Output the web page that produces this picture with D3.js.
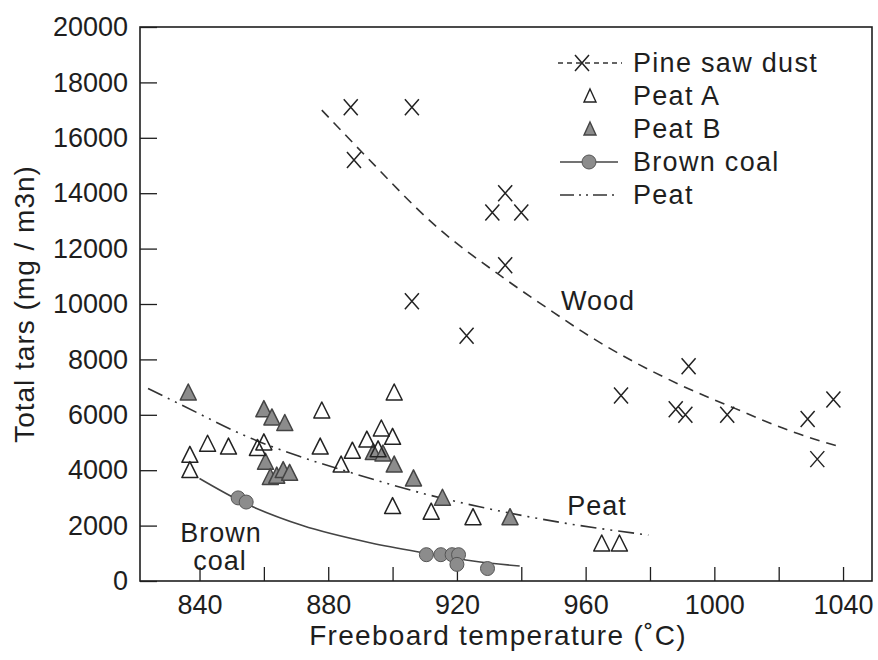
<!DOCTYPE html>
<html>
<head>
<meta charset="utf-8">
<script src="https://cdn.jsdelivr.net/npm/d3@7"></script>
<style>
body { margin: 0; background: #fff; }
text { font-family: "Liberation Sans", Arial, sans-serif; fill: #1e1e1e; }
</style>
</head>
<body>
<div id="chart"></div>
<script>
// measured points
var pineTemp = [887, 906, 888, 935, 931, 940, 935, 906, 923, 971, 992, 988, 991, 1004, 1029, 1037, 1032];
var pineTar  = [17100, 17100, 15200, 14000, 13300, 13300, 11400, 10100, 8850, 6700, 7750, 6200, 6000, 6000, 5850, 6550, 4400];

var peatATemp = [837, 837, 842.5, 849, 858, 860, 878, 877.5, 884, 887.5, 892, 896.5, 900, 895.5, 900.5, 900, 912, 925, 965, 970.5];
var peatATar  = [4500, 3950, 4900, 4800, 4750, 4950, 6100, 4800, 4150, 4650, 5050, 5450, 5150, 4700, 6750, 2650, 2450, 2250, 1300, 1300];

var peatBTemp = [836.5, 860, 862.5, 866.5, 860.5, 862, 864, 866, 868, 894, 897, 900.5, 906.5, 915.5, 936.5];
var peatBTar  = [6750, 6150, 5850, 5650, 4250, 3700, 3750, 3950, 3850, 4600, 4550, 4150, 3650, 2950, 2250];

var coalTemp = [852, 854.5, 910.5, 915, 918.5, 920.5, 920, 929.5];
var coalTar  = [3000, 2850, 950, 950, 950, 950, 600, 450];

// fitted trend lines
var woodFitTemp = [878, 892, 912.6, 935, 950, 959, 989, 1006, 1024, 1039.5];
var woodFitTar  = [17000, 15300, 12900, 10900, 9700, 9000, 7100, 6250, 5400, 4830];

var peatFitTemp = [824, 834.5, 856, 871, 888, 911.5, 927, 954, 979.5];
var peatFitTar  = [6950, 6350, 5150, 4500, 3880, 3100, 2680, 2080, 1660];

var coalFitTemp = [840, 853, 872, 893, 910.5, 925, 939.5];
var coalFitTar  = [3700, 2870, 2000, 1380, 1000, 720, 540];

var xTicks = [840, 860, 880, 900, 920, 940, 960, 980, 1000, 1020, 1040];
var yTicks = [0, 2000, 4000, 6000, 8000, 10000, 12000, 14000, 16000, 18000, 20000];
var legendNames = ["Pine saw dust", "Peat A", "Peat B", "Brown coal", "Peat"];

var W = 878, H = 660;
var margin = { top: 27, bottom: 79, left: 140, right: 6 };
var width = W - margin.left - margin.right;
var height = H - margin.top - margin.bottom;

var svg = d3.select("#chart").append("svg")
    .attr("width", W)
    .attr("height", H);

var x = d3.scaleLinear().domain([821.5, 1049]).range([0, width]);
var y = d3.scaleLinear().domain([0, 20000]).range([height, 0]);

var g = svg.append("g")
    .attr("transform", "translate(" + margin.left + "," + margin.top + ")");

var ink = "#1e1e1e";

// axes (ticks point inwards)
var xAxis = g.append("g")
    .attr("transform", "translate(0," + height + ")")
    .call(d3.axisBottom(x).tickValues(xTicks).tickSize(-14).tickPadding(14)
        .tickFormat(function(d) { return d % 40 == 0 ? d : ""; }));
xAxis.select(".domain").remove();
xAxis.selectAll("line").attr("stroke", ink).attr("stroke-width", 1.3);
xAxis.selectAll("text").attr("font-size", "27px").attr("fill", ink);

var yAxis = g.append("g")
    .call(d3.axisLeft(y).tickValues(yTicks).tickSize(-17).tickPadding(12)
        .tickFormat(d3.format("d")));
yAxis.select(".domain").remove();
yAxis.selectAll("line").attr("stroke", ink).attr("stroke-width", 1.3);
yAxis.selectAll("text").attr("font-size", "27px").attr("fill", ink);

// frame
g.append("rect")
    .attr("width", width)
    .attr("height", height)
    .attr("fill", "none")
    .attr("stroke", ink)
    .attr("stroke-width", 1.6);

// trend lines
function lineOf(tx, ty) {
    return d3.line()
        .x(function(d, i) { return x(tx[i]); })
        .y(function(d, i) { return y(ty[i]); })
        .curve(d3.curveMonotoneX)(tx);
}

g.append("path")
    .attr("d", lineOf(woodFitTemp, woodFitTar))
    .attr("fill", "none").attr("stroke", "#333").attr("stroke-width", 1.6)
    .attr("stroke-dasharray", "10,7");

g.append("path")
    .attr("d", lineOf(peatFitTemp, peatFitTar))
    .attr("fill", "none").attr("stroke", "#333").attr("stroke-width", 1.6)
    .attr("stroke-dasharray", "16,6,2,6,2,6");

g.append("path")
    .attr("d", lineOf(coalFitTemp, coalFitTar))
    .attr("fill", "none").attr("stroke", "#444").attr("stroke-width", 1.6);

// markers
var crossPath = "M-7,-8L7,8M-7,8L7,-8";
var triPath = "M0,-10L8,6L-8,6Z";

function drawTri(tx, ty, filled) {
    g.append("g").selectAll("path")
        .data(tx).enter()
        .append("path")
            .attr("d", triPath)
            .attr("transform", function(d, i) { return "translate(" + x(tx[i]) + "," + y(ty[i]) + ")"; })
            .attr("fill", filled ? "#8c8c8c" : "none")
            .attr("stroke", filled ? "#444" : "#222")
            .attr("stroke-width", 1.5)
            .attr("stroke-linejoin", "round");
}

drawTri(peatBTemp, peatBTar, true);
drawTri(peatATemp, peatATar, false);

g.append("g").selectAll("circle")
    .data(coalTemp).enter()
    .append("circle")
        .attr("cx", function(d, i) { return x(coalTemp[i]); })
        .attr("cy", function(d, i) { return y(coalTar[i]); })
        .attr("r", 7)
        .attr("fill", "#8c8c8c")
        .attr("stroke", "#555")
        .attr("stroke-width", 1);

g.append("g").selectAll("path")
    .data(pineTemp).enter()
    .append("path")
        .attr("d", crossPath)
        .attr("transform", function(d, i) { return "translate(" + x(pineTemp[i]) + "," + y(pineTar[i]) + ")"; })
        .attr("fill", "none")
        .attr("stroke", "#222")
        .attr("stroke-width", 1.5);

// curve labels
function label(px, py, s) {
    g.append("text").attr("x", px - margin.left).attr("y", py - margin.top)
        .attr("text-anchor", "middle").attr("font-size", "27px")
        .attr("letter-spacing", "1px").text(s);
}
label(598, 310, "Wood");
label(597, 515, "Peat");
label(221, 542, "Brown");
label(220, 570, "coal");

// legend
var lg = svg.append("g").attr("transform", "translate(558,63)");
var rowStep = 33;
legendNames.forEach(function(name, i) {
    var row = lg.append("g").attr("transform", "translate(0," + i * rowStep + ")");
    if (i == 0) {
        row.append("line").attr("x1", 0).attr("x2", 64).attr("stroke", "#333")
            .attr("stroke-width", 1.6).attr("stroke-dasharray", "5,4");
        row.append("path").attr("d", crossPath).attr("transform", "translate(24,0)")
            .attr("fill", "#fff").attr("stroke", "#222").attr("stroke-width", 1.5);
    } else if (i == 1 || i == 2) {
        row.append("path").attr("d", "M0,-8L6,5L-6,5Z").attr("transform", "translate(32,1)")
            .attr("fill", i == 2 ? "#8c8c8c" : "none")
            .attr("stroke", i == 2 ? "#444" : "#222").attr("stroke-width", 1.4);
    } else if (i == 3) {
        row.append("line").attr("x1", 2).attr("x2", 60).attr("stroke", "#444").attr("stroke-width", 1.6);
        row.append("circle").attr("cx", 31).attr("r", 7).attr("fill", "#8c8c8c").attr("stroke", "#555");
    } else {
        row.append("line").attr("x1", 2).attr("x2", 60).attr("stroke", "#333")
            .attr("stroke-width", 1.6).attr("stroke-dasharray", "14,5,2,5,2,5");
    }
    row.append("text").attr("x", 75).attr("dy", "0.35em")
        .attr("font-size", "27px").attr("letter-spacing", "1.3px").text(name);
});

// axis titles
svg.append("text")
    .attr("x", margin.left + width / 2 - 8)
    .attr("y", 645)
    .attr("text-anchor", "middle")
    .attr("font-size", "28px")
    .attr("letter-spacing", "1.3px")
    .text("Freeboard temperature (˚C)");

svg.append("text")
    .attr("transform", "translate(34," + (margin.top + height / 2) + ") rotate(-90)")
    .attr("text-anchor", "middle")
    .attr("font-size", "28px")
    .attr("letter-spacing", "1px")
    .text("Total tars (mg / m3n)");
</script>
</body>
</html>
